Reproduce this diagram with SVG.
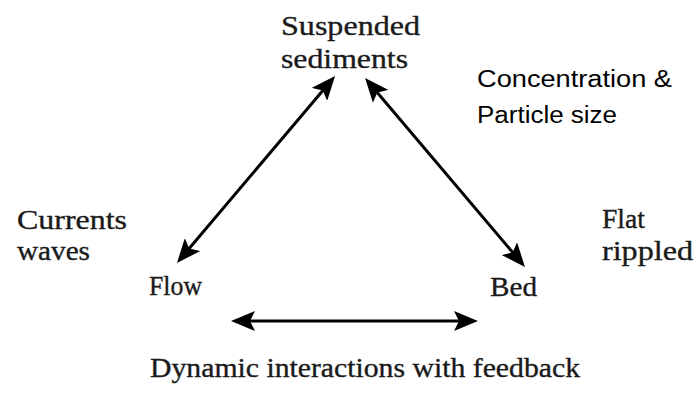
<svg xmlns="http://www.w3.org/2000/svg" width="698" height="396" viewBox="0 0 698 396">
  <defs>
    <style>
      .serif { font-family: "Liberation Serif", "Times New Roman", serif; font-size: 27px; fill: #1a1a1a; stroke: #1a1a1a; stroke-width: 0.35px; }
      .sans { font-family: "Liberation Sans", Arial, sans-serif; font-size: 23.5px; fill: #000; }
      .conn { stroke: #000; stroke-width: 3; fill: none; marker-start: url(#head); marker-end: url(#head); }
    </style>
    <marker id="head" viewBox="0 0 24 20" refX="12" refY="10" markerWidth="24" markerHeight="20" markerUnits="userSpaceOnUse" orient="auto-start-reverse">
      <path d="M24,10 L0,0 L5,10 L0,20 Z" fill="#000"/>
    </marker>
  </defs>
  <rect width="698" height="396" fill="#fff"/>

  <g id="connectors">
    <line class="conn" x1="184.7" y1="253.8" x2="327.3" y2="85.2"/>
    <line class="conn" x1="372.8" y1="87.2" x2="517.2" y2="257.8"/>
    <line class="conn" x1="243" y1="321" x2="466" y2="321"/>
  </g>

  <g id="suspended-sediments">
    <text class="serif" x="281" y="35" textLength="139" lengthAdjust="spacingAndGlyphs">Suspended</text>
    <text class="serif" x="281" y="68" textLength="127" lengthAdjust="spacingAndGlyphs">sediments</text>
  </g>
  <g id="flow">
    <text class="serif" x="149" y="295" textLength="53" lengthAdjust="spacingAndGlyphs">Flow</text>
  </g>
  <g id="bed">
    <text class="serif" x="490" y="296" textLength="47" lengthAdjust="spacingAndGlyphs">Bed</text>
  </g>
  <g id="currents-waves">
    <text class="serif" x="17" y="229" textLength="110" lengthAdjust="spacingAndGlyphs">Currents</text>
    <text class="serif" x="17" y="260" textLength="73" lengthAdjust="spacingAndGlyphs">waves</text>
  </g>
  <g id="flat-rippled">
    <text class="serif" x="602" y="228" textLength="43" lengthAdjust="spacingAndGlyphs">Flat</text>
    <text class="serif" x="602" y="260" textLength="91" lengthAdjust="spacingAndGlyphs">rippled</text>
  </g>
  <g id="concentration">
    <text class="sans" x="477" y="87" textLength="195" lengthAdjust="spacingAndGlyphs">Concentration &amp;</text>
    <text class="sans" x="477" y="123" textLength="140" lengthAdjust="spacingAndGlyphs">Particle size</text>
  </g>
  <g id="caption">
    <text class="serif" x="150" y="377" textLength="430" lengthAdjust="spacingAndGlyphs">Dynamic interactions with feedback</text>
  </g>
</svg>
